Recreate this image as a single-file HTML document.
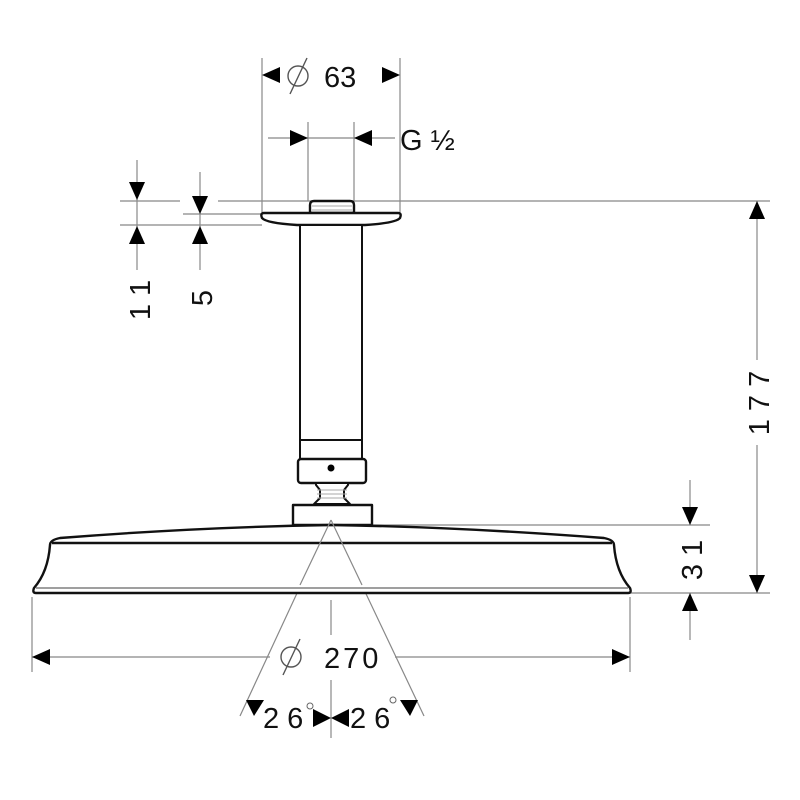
<!DOCTYPE html>
<html><head><style>html,body{margin:0;padding:0;background:#fff}svg{display:block}</style></head><body>
<svg width="800" height="800" viewBox="0 0 800 800" xmlns="http://www.w3.org/2000/svg" font-family="Liberation Sans, DejaVu Sans, sans-serif">
<g stroke="#888" stroke-width="1.2" fill="none">
<line x1="262" y1="58" x2="262" y2="212"/><line x1="400" y1="58" x2="400" y2="212"/>
<line x1="308" y1="122" x2="308" y2="201"/><line x1="354" y1="122" x2="354" y2="201"/>
<line x1="268" y1="138" x2="395" y2="138"/>
<line x1="120" y1="201" x2="180" y2="201"/><line x1="218" y1="201" x2="770" y2="201"/>
<line x1="183" y1="214" x2="262" y2="214"/>
<line x1="120" y1="225" x2="262" y2="225"/>
<line x1="137" y1="160" x2="137" y2="270"/><line x1="200" y1="172" x2="200" y2="270"/>
<line x1="757" y1="201" x2="757" y2="360"/><line x1="757" y1="445" x2="757" y2="593"/>
<line x1="372" y1="525" x2="710" y2="525"/><line x1="630" y1="593" x2="770" y2="593"/>
<line x1="690" y1="480" x2="690" y2="525"/><line x1="690" y1="593" x2="690" y2="640"/>
<line x1="32" y1="597" x2="32" y2="672"/><line x1="630" y1="597" x2="630" y2="672"/>
<line x1="32" y1="657" x2="270" y2="657"/><line x1="395" y1="657" x2="630" y2="657"/>
<line x1="331" y1="600" x2="331" y2="635"/><line x1="331" y1="680" x2="331" y2="738"/>
<line x1="331" y1="520" x2="240" y2="716"/><line x1="331" y1="520" x2="424" y2="716"/>
</g>
<g fill="#000">
<path d="M262,75l18,-8v16z"/><path d="M400,75l-18,-8v16z"/>
<path d="M308,138l-18,-8v16z"/><path d="M354,138l18,-8v16z"/>
<path d="M137,200l-8,-18h16z"/><path d="M137,226l-8,18h16z"/>
<path d="M200,214l-8,-18h16z"/><path d="M200,226l-8,18h16z"/>
<path d="M757,201l-8,18h16z"/><path d="M757,593l-8,-18h16z"/>
<path d="M690,525l-8,-18h16z"/><path d="M690,593l-8,18h16z"/>
<path d="M32,657l18,-8v16z"/><path d="M630,657l-18,-8v16z"/>
<path d="M246,700l18,0l-10,16z"/><path d="M418,700l-18,0l10,16z"/>
<path d="M331,718l-18,-9v18z"/><path d="M331,718l18,-9v18z"/>
</g>
<g stroke="#111" stroke-width="2.4" fill="#fff" stroke-linejoin="round">
<path d="M310,213v-8q0,-4 4,-4h36q4,0 4,4v8z"/>
<path d="M264,213h134q4,0 2,5q-4,5 -35,7h-68q-31,-2 -35,-7q-2,-5 2,-5z"/>
<rect x="300" y="225" width="62" height="235" stroke-width="2"/>
<rect x="300" y="440" width="62" height="20" stroke-width="2"/>
<rect x="298" y="459" width="68" height="24" rx="3"/>
<path d="M316,483h32v2l-4,5v8l6,6h-36l6,-6v-8l-4,-5z" stroke-width="2"/>
<rect x="293" y="505" width="79" height="20"/>
<path d="M331,525 Q200,527 60,538 Q50,540 50,545 Q48,572 34,588 Q32,593 36,593 H628 Q632,593 630,588 Q616,572 614,545 Q614,540 604,538 Q460,527 331,525z"/>
<line x1="52" y1="543" x2="612" y2="543"/>
<line x1="36" y1="588" x2="628" y2="588" stroke-width="1.2" stroke="#666"/>
</g>
<g stroke="#aaa" stroke-width="1"><line x1="312" y1="206" x2="352" y2="206"/><line x1="312" y1="210" x2="352" y2="210"/>
<line x1="317" y1="490" x2="347" y2="490"/><line x1="317" y1="494" x2="347" y2="494"/><line x1="317" y1="498" x2="347" y2="498"/></g>
<circle cx="331" cy="468" r="3.5" fill="#000"/>
<line x1="331" y1="520" x2="300" y2="585" stroke="#888" stroke-width="1.2"/><line x1="331" y1="520" x2="362" y2="585" stroke="#888" stroke-width="1.2"/>
<g fill="none" stroke="#555" stroke-width="1.4">
<circle cx="298" cy="76" r="10"/><line x1="290" y1="94" x2="307" y2="58"/>
<circle cx="291" cy="657" r="10"/><line x1="283" y1="675" x2="300" y2="639"/>
</g>
<g fill="#111" font-size="29">
<text x="324" y="87">63</text>
<text x="400" y="150">G ½</text>
<text x="324" y="668" letter-spacing="3">270</text>
<text x="263" y="728">2 6</text><text x="350" y="728">2 6</text>
<text transform="translate(150,300) rotate(-90)" text-anchor="middle">1 1</text>
<text transform="translate(212,298) rotate(-90)" text-anchor="middle">5</text>
<text transform="translate(769,403) rotate(-90)" text-anchor="middle">1 7 7</text>
<text transform="translate(702,560) rotate(-90)" text-anchor="middle">3 1</text>
</g>
<g fill="none" stroke="#666" stroke-width="1"><circle cx="310" cy="706" r="3"/><circle cx="393" cy="700" r="3"/></g>
</svg>
</body></html>
